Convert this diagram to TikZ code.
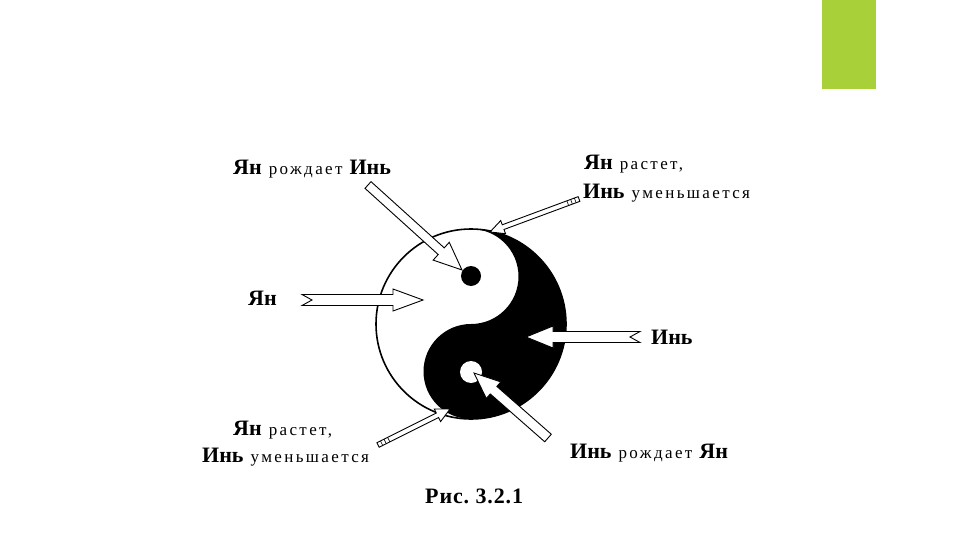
\documentclass[tikz,border=0pt]{standalone}
\usepackage{fontspec}
\setmainfont{Liberation Serif}
\definecolor{accentgreen}{RGB}{168,208,56}
\newcommand\ybf[1]{{\fontsize{22}{24}\selectfont\bfseries #1}}
\newcommand\ysm[1]{{\fontsize{17}{19}\selectfont\mdseries\addfontfeature{LetterSpace=14}#1}}
\newcommand\harrow[7]{%
  \pgfpointdiff{\pgfpointanchor{#1}{center}}{\pgfpointanchor{#2}{center}}%
  \pgfgetlastxy{\hdx}{\hdy}%
  \pgfmathsetmacro\hang{atan2(\hdy,\hdx)}%
  \pgfmathsetmacro\hlen{veclen(\hdx,\hdy)}%
  \pgfmathsetmacro\hbase{\hlen-#5}%
  \begin{scope}[shift={(#1)},rotate=\hang]
    \filldraw[arrowline] (#6pt,0pt) -- (0pt,#3pt) -- (\hbase pt,#3pt) -- (\hbase pt,#4pt)
      -- (\hlen pt,0pt) -- (\hbase pt,-#4pt) -- (\hbase pt,-#3pt) -- (0pt,-#3pt) -- cycle;
    #7
  \end{scope}}
\tikzset{
  arrowline/.style={draw=black,fill=white,line width=0.9pt,line join=miter},
  lbl/.style={anchor=base west,inner sep=0pt,text=black,font=\fontsize{28}{30}\selectfont},
}
\begin{document}
\begin{tikzpicture}[x=1pt,y=-1pt]
\useasboundingbox (0,0) rectangle (960,540);
\fill[white] (0,0) rectangle (960,540);
% green accent bar
\fill[accentgreen] (822,0) rectangle (876,89);
% yin-yang
\coordinate (yy) at (471,324);
\fill[white] (yy) circle[radius=95];
\fill[black] (471,229) arc[start angle=-90,end angle=90,radius=95]
  arc[start angle=90,end angle=270,radius=47.5]
  arc[start angle=90,end angle=-90,radius=47.5] -- cycle;
\fill[black] (471,276) circle[radius=10];
\fill[white] (471,372) circle[radius=11];
\draw[line width=1.6pt] (yy) circle[radius=95];
% labels
\node[lbl] (t1) at (233,175) {\ybf{Ян} \ysm{рождает} \ybf{Инь}};
\node[lbl] (t2a) at (584,170) {\ybf{Ян} \ysm{растет,}};
\node[lbl] (t2b) at (583,198) {\ybf{Инь} \ysm{уменьшается}};
\node[lbl] (t3) at (248,305) {\ybf{Ян}};
\node[lbl] (t4) at (651,344) {\ybf{Инь}};
\node[lbl] (t5) at (570,458) {\ybf{Инь} \ysm{рождает} \ybf{Ян}};
\node[lbl] (t6a) at (233,435) {\ybf{Ян} \ysm{растет,}};
\node[lbl] (t6b) at (202,462) {\ybf{Инь} \ysm{уменьшается}};
\node[lbl] (cap) at (425,503) {\ybf{\addfontfeature{LetterSpace=4}Рис.\ 3.2.1}};
% arrow end points
\coordinate (a1t) at (302,300); \coordinate (a1h) at (423,300);
\coordinate (a2t) at (640,337); \coordinate (a2h) at (526,337);
\coordinate (a3t) at (368,185); \coordinate (a3h) at (462,270);
\coordinate (a4t) at (548,438); \coordinate (a4h) at (474,373);
\coordinate (a5t) at (579,199); \coordinate (a5h) at (490,232);
\coordinate (a6t) at (378,445); \coordinate (a6h) at (450,409);
% arrows
\harrow{a1t}{a1h}{5.5}{11}{30}{10}{}
\harrow{a2t}{a2h}{5.5}{11}{27}{10}{}
\harrow{a3t}{a3h}{4.5}{12}{28}{0}{}
\harrow{a4t}{a4h}{5}{11}{26}{0}{}
\harrow{a5t}{a5h}{2.5}{7}{14}{0}{\draw[line width=0.6pt] (4pt,-2.5pt)--(4pt,2.5pt) (8pt,-2.5pt)--(8pt,2.5pt) (12pt,-2.5pt)--(12pt,2.5pt);}
\harrow{a6t}{a6h}{2.5}{7}{14}{0}{\draw[line width=0.6pt] (4pt,-2.5pt)--(4pt,2.5pt) (8pt,-2.5pt)--(8pt,2.5pt) (12pt,-2.5pt)--(12pt,2.5pt);}
\end{tikzpicture}
\end{document}
